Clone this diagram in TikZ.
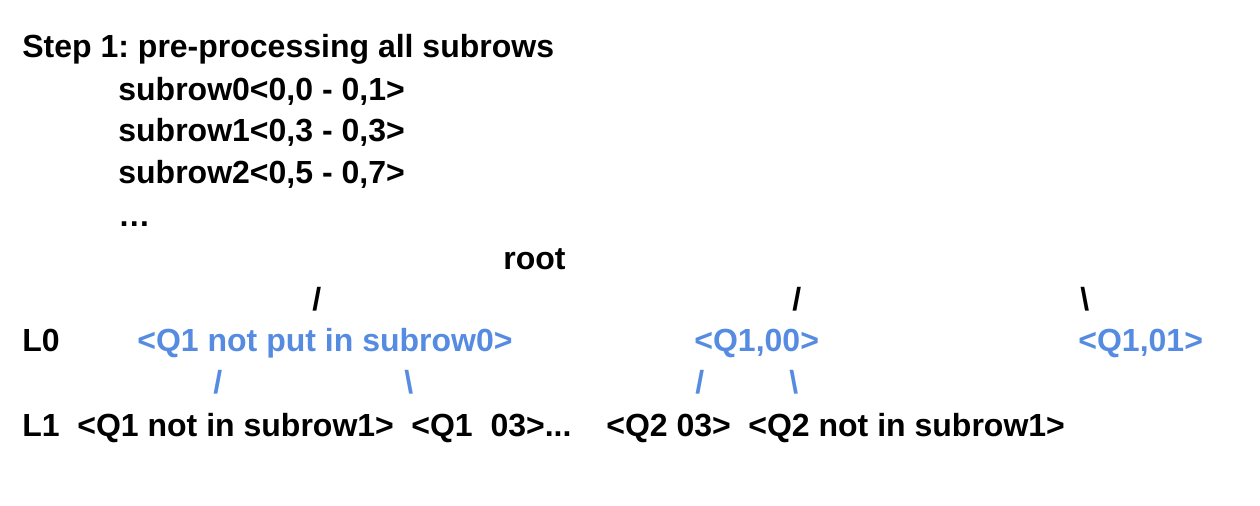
\documentclass[tikz,border=0pt]{standalone}
\usepackage{fontspec}
\setmainfont{Liberation Sans}
\definecolor{qblue}{RGB}{86,139,226}
\frenchspacing

\begin{document}
\begin{tikzpicture}[x=0.5pt,y=-0.5pt,
	txt/.style={anchor=base west,inner sep=0pt,font=\fontsize{16}{19}\selectfont\bfseries},
	hit/.style={txt,text=qblue}]

\useasboundingbox (0,0) rectangle (1260,506);

%%%%%%%%%%%%%%%%%%%%%%%%%%%%%%%%%%%%%%%%%%

\node [txt] (step) at (22,58) {Step 1: pre-processing all subrows};
\node [txt] (sub0) at (118,101) {subrow0<0,0 - 0,1>};
\node [txt] (sub1) at (118,142) {subrow1<0,3 - 0,3>};
\node [txt] (sub2) at (118,184) {subrow2<0,5 - 0,7>};
\node [txt] (dots) at (118,227) {\dots};

%%%%%%%%%%%%%%%%%%%%%%%%%%%%%%%%%%%%%%%%%%

\node [txt] (root) at (503,270) {root};
\node [txt] (sl1) at (312,311) {/};
\node [txt] (sl2) at (792,311) {/};
\node [txt] (sl3) at (1080,311) {\textbackslash};

%%%%%%%%%%%%%%%%%%%%%%%%%%%%%%%%%%%%%%%%%%

\node [txt] (L0) at (22,352) {L0};
\node [hit] (q1a) at (137,352) {<Q1 not put in subrow0>};
\node [hit] (q1b) at (694,352) {<Q1,00>};
\node [hit] (q1c) at (1078,352) {<Q1,01>};

\node [hit] (sl4) at (213,394) {/};
\node [hit] (sl5) at (404,394) {\textbackslash};
\node [hit] (sl6) at (695,394) {/};
\node [hit] (sl7) at (789,394) {\textbackslash};

%%%%%%%%%%%%%%%%%%%%%%%%%%%%%%%%%%%%%%%%%%

\node [txt] (L1) at (22,437) {L1};
\node [txt] (r1) at (77,437) {<Q1 not in subrow1>};
\node [txt] (r2) at (411,437) {<Q1\ \ 03>...};
\node [txt] (r3) at (606,437) {<Q2 03>};
\node [txt] (r4) at (748,437) {<Q2 not in subrow1>};

\end{tikzpicture}
\end{document}
